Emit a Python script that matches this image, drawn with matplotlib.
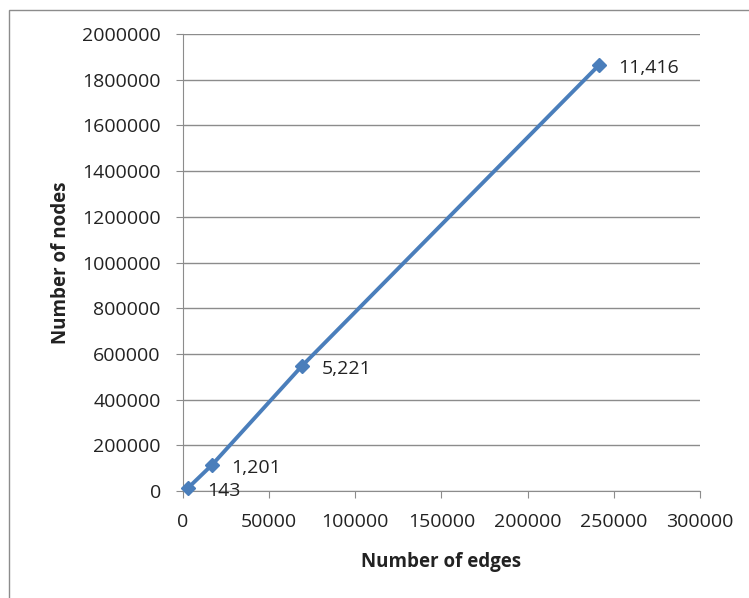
import matplotlib
matplotlib.use("Agg")
import matplotlib.pyplot as plt
from matplotlib.patches import Rectangle

# Graph sizes: edges vs nodes, labelled with a count per point
edges = [2900, 16800, 69000, 241400]
nodes = [13000, 114000, 547000, 1864000]
point_labels = ["143", "1,201", "5,221", "11,416"]

x_ticks = [0, 50000, 100000, 150000, 200000, 250000, 300000]
y_ticks = list(range(0, 2000001, 200000))

plt.rcParams['font.family'] = ['Open Sans', 'DejaVu Sans']

fig = plt.figure(figsize=(7.49, 5.98), dpi=100)
ax = fig.add_axes([183 / 749, 1 - 491 / 598, 517 / 749, 457 / 598])

# chart frame
fig.patches.append(Rectangle((9 / 749, -0.05), 1.0, 1 - 10 / 598 + 0.05,
                             transform=fig.transFigure, fill=False,
                             edgecolor='#8c8c8c', linewidth=1.0))

ax.plot(edges, nodes, color='#4a7ebb', linewidth=2.8, marker='D',
        markersize=7, zorder=3, clip_on=False)
for x, y, t in zip(edges, nodes, point_labels):
    ax.annotate(t, (x, y), xytext=(14, -2), textcoords='offset points',
                fontsize=14, color='#222222', va='center', ha='left')

ax.set_xlim(0, 300000)
ax.set_ylim(0, 2000000)
ax.set_xticks(x_ticks)
ax.set_yticks(y_ticks)
ax.set_xticklabels([str(v) for v in x_ticks])
ax.set_yticklabels([str(v) for v in y_ticks])
ax.tick_params(axis='both', labelsize=14, colors='#222222', length=5,
               direction='out')
ax.tick_params(axis='x', pad=11)
ax.tick_params(axis='y', pad=11)
ax.tick_params(axis='both', color='#8c8c8c')
ax.yaxis.grid(True, color='#8c8c8c', linewidth=1.0)
ax.set_axisbelow(True)
for s in ['top', 'right']:
    ax.spines[s].set_visible(False)
for s in ['left', 'bottom']:
    ax.spines[s].set_color('#8c8c8c')

ax.set_xlabel('Number of edges', fontsize=13.5, fontweight='bold',
              color='#222222', labelpad=15)
ax.set_ylabel('Number of nodes', fontsize=13.5, fontweight='bold',
              color='#222222', labelpad=8)

fig.savefig('out.png', dpi=100)
